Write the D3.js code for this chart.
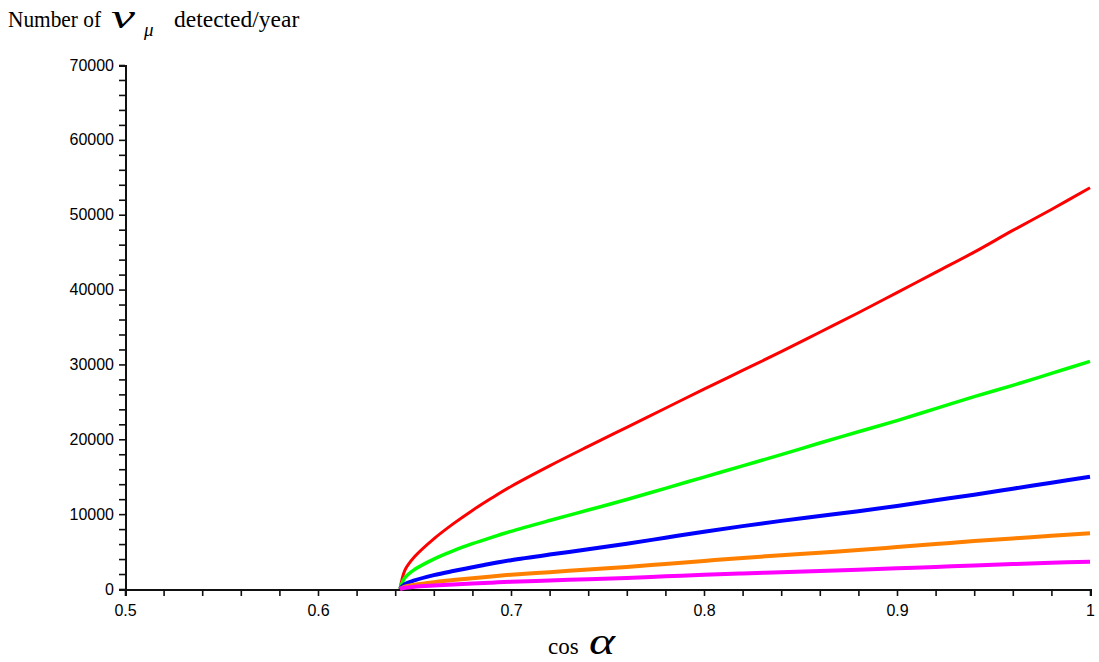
<!DOCTYPE html>
<html>
<head>
<meta charset="utf-8">
<script src="https://cdn.jsdelivr.net/npm/d3@7"></script>
<style>
  body { margin: 0; background: #fff; }
  svg { display: block; }
  .axis text { font-family: "Liberation Sans", Arial, sans-serif; font-size: 16px; fill: #000; }
  .axis path { stroke: #111; stroke-width: 2; shape-rendering: crispEdges; }
  .axis line { stroke: #111; stroke-width: 1.6; }
  .title { font-family: "Liberation Serif", "Times New Roman", serif; fill: #000; }
</style>
</head>
<body>
<div id="chart"></div>
<script>
// cos(alpha) sample points
const cosAlpha = [0.6425, 0.645, 0.65, 0.66, 0.67, 0.68, 0.69, 0.70, 0.72, 0.74, 0.76, 0.78,
                  0.80, 0.82, 0.84, 0.86, 0.88, 0.90, 0.92, 0.94, 0.96, 0.98, 1.0];

// detected events per year, one array per curve
const redVals     = [0, 2500, 4300, 6700, 8700, 10500, 12150, 13700, 16450, 19050, 21600, 24150,
                     26700, 29200, 31700, 34300, 36900, 39600, 42300, 45000, 47900, 50700, 53600];
const greenVals   = [0, 1500, 2600, 4000, 5100, 6050, 6900, 7700, 9150, 10550, 11950, 13450,
                     14950, 16450, 17950, 19500, 21000, 22500, 24100, 25700, 27200, 28800, 30400];
const blueVals    = [0, 650, 1150, 1850, 2400, 2900, 3400, 3850, 4600, 5300, 6050, 6850,
                     7650, 8400, 9100, 9750, 10400, 11100, 11850, 12600, 13400, 14200, 15000];
const orangeVals  = [0, 320, 570, 920, 1200, 1450, 1680, 1900, 2250, 2600, 2950, 3350,
                     3750, 4150, 4500, 4850, 5200, 5600, 6000, 6400, 6750, 7100, 7450];
const magentaVals = [0, 160, 290, 460, 610, 740, 850, 960, 1140, 1300, 1480, 1690,
                     1890, 2070, 2240, 2400, 2580, 2760, 2950, 3150, 3330, 3500, 3650];

const xTicks = d3.range(0, 26).map(i => +(0.5 + i * 0.02).toFixed(2));
const yTicks = d3.range(0, 36).map(i => i * 2000);

const series = [
  { vals: redVals, color: "#ff0000", w: 3 },
  { vals: greenVals, color: "#00ff00", w: 3.5 },
  { vals: blueVals, color: "#0000ff", w: 4 },
  { vals: orangeVals, color: "#ff8000", w: 4 },
  { vals: magentaVals, color: "#ff00ff", w: 4 }
];

const W = 1099, H = 662;
const margin = { top: 65, right: 9, bottom: 73, left: 125 };

const svg = d3.select("#chart").append("svg")
  .attr("width", W).attr("height", H);

const x = d3.scaleLinear().domain([0.5, 1]).range([margin.left, W - margin.right]);
const y = d3.scaleLinear().domain([0, 70000]).range([H - margin.bottom, margin.top]);

// x axis
const xAxis = svg.append("g")
  .attr("class", "axis")
  .attr("transform", `translate(0,${y(0)})`)
  .call(d3.axisBottom(x)
    .tickValues(xTicks)
    .tickSizeOuter(0)
    .tickSize(7)
    .tickFormat((d, i) => i % 5 === 0 ? d3.format("~g")(d) : ""));
xAxis.selectAll("text").attr("dy", "1.05em");

// y axis
svg.append("g")
  .attr("class", "axis")
  .attr("transform", `translate(${x(0.5)},0)`)
  .call(d3.axisLeft(y)
    .tickValues(yTicks)
    .tickSizeOuter(0)
    .tickSize(6)
    .tickFormat(d => d % 10000 === 0 ? d : ""))
  .selectAll("text").attr("x", -11);

// curves
const line = d3.line()
  .x((d, i) => x(cosAlpha[i]))
  .y(d => y(d))
  .curve(d3.curveCatmullRom.alpha(0.5));

series.forEach(s => {
  svg.append("path")
    .datum(s.vals)
    .attr("fill", "none")
    .attr("stroke", s.color)
    .attr("stroke-width", s.w)
    .attr("d", line);
});

// y title
svg.append("text").attr("class", "title").attr("x", 8).attr("y", 27)
  .attr("textLength", 93).attr("lengthAdjust", "spacingAndGlyphs")
  .style("font-size", "23px").text("Number of");
svg.append("text").attr("class", "title").attr("x", 111).attr("y", 28)
  .attr("textLength", 24).attr("lengthAdjust", "spacingAndGlyphs")
  .style("font-size", "33px").style("font-style", "italic").text("ν");
svg.append("text").attr("class", "title").attr("x", 144).attr("y", 36)
  .style("font-size", "19px").style("font-style", "italic").text("μ");
svg.append("text").attr("class", "title").attr("x", 174).attr("y", 27)
  .style("font-size", "23.5px").text("detected/year");

// x title
svg.append("text").attr("class", "title").attr("x", 548).attr("y", 654)
  .style("font-size", "23px").text("cos");
svg.append("text").attr("class", "title").attr("x", 589).attr("y", 654)
  .attr("textLength", 26).attr("lengthAdjust", "spacingAndGlyphs")
  .style("font-size", "38px").style("font-style", "italic").text("α");
</script>
</body>
</html>
